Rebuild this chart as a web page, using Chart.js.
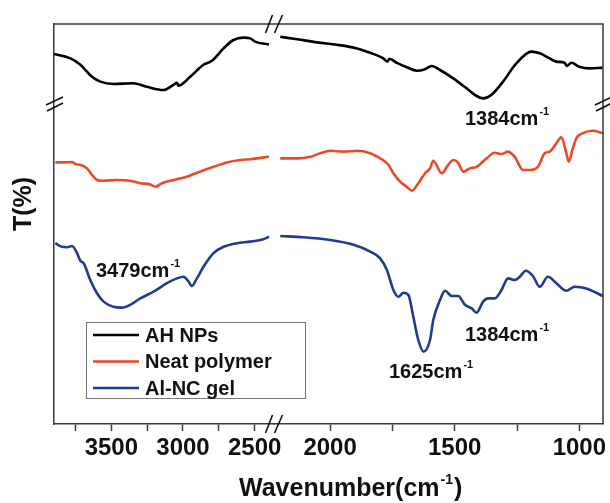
<!DOCTYPE html>
<html>
<head>
<meta charset="utf-8">
<script src="https://cdn.jsdelivr.net/npm/chart.js@4.4.0/dist/chart.umd.min.js"></script>
<style>
html, body { margin: 0; padding: 0; background: #fff; }
</style>
</head>
<body>
<canvas id="ftir" width="610" height="503"></canvas>
<script>
// series names / colours
const seriesNames = ['AH NPs', 'Neat polymer', 'Al-NC gel'];
const seriesColors = ['#000000', '#ea4a26', '#233a92'];

// AH NPs
const blackWn = [3900, 3785, 3716, 3635, 3577, 3486, 3347, 3251, 3136, 3066, 3042, 3031, 2950, 2857, 2798, 2717, 2648, 2578, 2531, 2497, 2400,
  2200, 2132, 2052, 1972, 1892, 1839, 1786, 1770, 1762, 1732, 1692, 1652, 1619, 1592, 1559, 1506, 1452, 1412, 1386, 1352, 1306, 1252, 1192, 1159, 1119, 1092, 1059, 1050, 1032, 1000, 959, 906];
const blackT = [92.5, 91.4, 89.8, 86.8, 85.6, 85.0, 85.2, 84.3, 83.5, 84.8, 85.3, 84.6, 86.8, 89.8, 90.8, 93.9, 96.0, 96.6, 96.4, 95.6, 94.9,
  96.8, 96.2, 95.4, 94.8, 93.9, 92.8, 91.4, 90.6, 91.3, 90.3, 89.2, 88.3, 88.7, 89.5, 88.5, 86.4, 83.9, 82.0, 81.4, 82.3, 85.6, 90.2, 93.1, 92.7, 91.4, 90.6, 90.3, 89.5, 90.3, 89.3, 88.9, 89.1];

// Neat polymer
const redWn = [3891, 3833, 3774, 3751, 3716, 3670, 3635, 3600, 3554, 3460, 3368, 3298, 3228, 3194, 3147, 3066, 2973, 2927, 2880, 2787, 2694, 2601, 2531, 2400,
  2200, 2132, 2079, 2039, 1999, 1946, 1892, 1839, 1799, 1766, 1746, 1719, 1692, 1672, 1646, 1619, 1599, 1586, 1552, 1526, 1506, 1486, 1466, 1439, 1412, 1372, 1339, 1312, 1286, 1259, 1226, 1199, 1166, 1139, 1119, 1092, 1072, 1055, 1042, 1028, 1012, 986, 946, 906];
const redT = [65.4, 65.4, 65.5, 65.0, 64.8, 63.9, 62.3, 61.0, 60.8, 61.0, 60.8, 60.2, 59.9, 59.3, 60.2, 61.0, 61.8, 62.5, 63.1, 64.3, 65.4, 66.0, 66.2, 66.8,
  66.4, 66.4, 66.8, 67.7, 68.3, 68.1, 68.3, 67.7, 66.4, 64.8, 62.7, 60.6, 59.3, 58.3, 60.2, 62.7, 63.9, 65.8, 62.7, 64.8, 66.0, 65.3, 63.1, 63.9, 64.3, 66.4, 67.8, 67.5, 68.1, 66.8, 63.5, 63.5, 64.3, 67.7, 68.1, 70.2, 71.7, 68.5, 65.6, 68.5, 71.4, 72.7, 73.3, 72.7];

// Al-NC gel
const blueWn = [3891, 3844, 3809, 3774, 3739, 3716, 3693, 3647, 3600, 3554, 3484, 3426, 3368, 3298, 3205, 3112, 3042, 2996, 2961, 2938, 2903, 2857, 2787, 2717, 2624, 2531, 2439, 2400,
  2200, 2106, 2000, 1906, 1839, 1799, 1772, 1746, 1726, 1706, 1686, 1666, 1646, 1625, 1599, 1586, 1559, 1539, 1512, 1486, 1459, 1432, 1412, 1386, 1366, 1339, 1312, 1286, 1259, 1239, 1215, 1186, 1159, 1126, 1092, 1052, 1019, 972, 906];
const blueT = [45.2, 44.3, 44.2, 44.5, 42.7, 40.8, 40.2, 36.0, 32.7, 30.6, 29.3, 29.1, 29.8, 31.4, 33.1, 35.2, 36.4, 36.8, 35.6, 34.5, 36.4, 39.3, 42.7, 44.3, 45.2, 45.6, 46.2, 46.8,
  47.0, 46.7, 46.0, 44.8, 43.1, 41.4, 38.5, 33.5, 31.8, 32.8, 32.3, 26.8, 21.0, 18.1, 21.0, 26.0, 31.0, 33.3, 32.0, 32.0, 29.8, 28.9, 27.8, 30.6, 31.4, 31.4, 33.5, 36.4, 36.0, 36.8, 38.3, 37.0, 34.3, 36.8, 35.2, 33.3, 34.3, 33.9, 32.0];

// axis break and ticks
const leftRange = [2365, 3900];
const rightRange = [905, 2225];
const breakAt = 2300;
const leftTicks = [3750, 3500, 3250, 3000, 2750, 2500];
const rightTicks = [2000, 1750, 1500, 1250, 1000];
const tickLabels = [3500, 3000, 2500, 2000, 1500, 1000];
const peakLabels = ['1384', '3479', '1625', '1384'];

const FONT = "'Liberation Sans', Arial, Helvetica, sans-serif";

const allWn = [blackWn, redWn, blueWn];
const allT = [blackT, redT, blueT];

let datasets = [];
for (let s = 0; s < 3; s++) {
  let left = [], right = [];
  for (let i = 0; i < allWn[s].length; i++) {
    let pt = {x: allWn[s][i], y: allT[s][i]};
    if (pt.x > breakAt) left.push(pt); else right.push(pt);
  }
  [[left, 'xl'], [right, 'xr']].forEach(function (part) {
    datasets.push({
      label: seriesNames[s],
      data: part[0],
      xAxisID: part[1],
      borderColor: seriesColors[s],
      borderWidth: 2.6,
      pointRadius: 0,
      fill: false,
      cubicInterpolationMode: 'monotone'
    });
  });
}

function slash(ctx, x1, y1, x2, y2) {
  ctx.beginPath();
  ctx.moveTo(x1, y1);
  ctx.lineTo(x2, y2);
  ctx.stroke();
}

function supText(ctx, text, sup, x, y, size, tail) {
  ctx.font = 'bold ' + size + 'px ' + FONT;
  ctx.fillText(text, x, y);
  let w = ctx.measureText(text).width;
  let ss = Math.round(size * 0.55);
  ctx.font = 'bold ' + ss + 'px ' + FONT;
  ctx.fillText(sup, x + w + 1, y - size * 0.5);
  let w2 = ctx.measureText(sup).width;
  if (tail) {
    ctx.font = 'bold ' + size + 'px ' + FONT;
    ctx.fillText(tail, x + w + w2 + 2, y);
  }
}

const decor = {
  id: 'decor',
  afterDraw(chart) {
    const ctx = chart.ctx;
    const a = chart.chartArea;
    ctx.save();
    // frame top and right
    ctx.strokeStyle = '#3a3a3a';
    ctx.lineWidth = 1.5;
    ctx.beginPath();
    ctx.moveTo(a.left, a.top);
    ctx.lineTo(a.right, a.top);
    ctx.lineTo(a.right, a.bottom);
    ctx.stroke();

    // x break marks
    const bx = chart.scales.xl.right;
    ctx.strokeStyle = '#111';
    ctx.lineWidth = 1.6;
    [a.top, a.bottom].forEach(function (cy) {
      slash(ctx, bx - 8.5, cy + 9, bx - 1.5, cy - 9);
      slash(ctx, bx + 0.5, cy + 9, bx + 8.5, cy - 9);
    });
    // y break marks
    const by = 104;
    [a.left, a.right].forEach(function (cx) {
      slash(ctx, cx - 8, by + 1, cx + 9, by - 7);
      slash(ctx, cx - 7, by + 7, cx + 9, by - 1);
    });

    // peak labels
    ctx.fillStyle = '#111';
    ctx.textAlign = 'left';
    ctx.textBaseline = 'alphabetic';
    supText(ctx, peakLabels[0] + 'cm', '-1', 465, 125, 20);
    supText(ctx, peakLabels[1] + 'cm', '-1', 96, 277, 20);
    supText(ctx, peakLabels[2] + 'cm', '-1', 389, 378, 20);
    supText(ctx, peakLabels[3] + 'cm', '-1', 465, 341, 20);

    // x title
    supText(ctx, 'Wavenumber(cm', '-1', 239, 496, 25, ')');

    // y title
    ctx.save();
    ctx.translate(24, 204);
    ctx.rotate(-Math.PI / 2);
    ctx.textAlign = 'center';
    ctx.textBaseline = 'middle';
    ctx.font = 'bold 25px ' + FONT;
    ctx.fillText('T(%)', 0, 0);
    ctx.restore();

    // legend box
    ctx.strokeStyle = '#777';
    ctx.lineWidth = 1;
    ctx.strokeRect(86.5, 322.5, 219, 76);
    ctx.font = 'bold 20px ' + FONT;
    ctx.textBaseline = 'middle';
    for (let s = 0; s < 3; s++) {
      let yy = 335 + s * 26.5;
      ctx.strokeStyle = seriesColors[s];
      ctx.lineWidth = 2.6;
      slash(ctx, 93, yy, 139, yy);
      ctx.fillStyle = '#111';
      ctx.fillText(seriesNames[s], 145, yy + 1);
    }
    ctx.restore();
  }
};

function xAxis(range, weight, tickVals) {
  return {
    type: 'linear',
    position: 'bottom',
    stack: 'wn',
    stackWeight: weight,
    reverse: true,
    min: range[0],
    max: range[1],
    border: {display: true, color: '#3a3a3a', width: 1.5},
    grid: {display: true, drawOnChartArea: false, drawTicks: true, tickLength: 7, color: '#3a3a3a', tickWidth: 1.5, tickColor: '#3a3a3a'},
    ticks: {
      autoSkip: false,
      maxRotation: 0,
      padding: 3,
      color: '#111',
      font: {family: FONT, size: 24, weight: 'bold'},
      callback: function (v) { return tickLabels.indexOf(v) >= 0 ? String(v) : ''; }
    },
    afterBuildTicks: function (scale) {
      scale.ticks = tickVals.map(function (v) { return {value: v}; });
    },
    afterFit: function (scale) {
      scale.height = 79;
      scale.paddingLeft = 0;
      scale.paddingRight = 0;
    }
  };
}

new Chart(document.getElementById('ftir'), {
  type: 'line',
  data: {datasets: datasets},
  options: {
    responsive: false,
    animation: false,
    devicePixelRatio: 1,
    layout: {padding: {left: 54, right: 7, top: 24, bottom: 0}},
    plugins: {legend: {display: false}, tooltip: {enabled: false}},
    scales: {
      xl: xAxis(leftRange, 220, leftTicks),
      xr: xAxis(rightRange, 329, rightTicks),
      y: {
        min: 0,
        max: 100,
        border: {display: true, color: '#3a3a3a', width: 1.5},
        grid: {display: false},
        ticks: {display: false},
        afterFit: function (scale) { scale.width = 0; }
      }
    }
  },
  plugins: [decor]
});
</script>
</body>
</html>
